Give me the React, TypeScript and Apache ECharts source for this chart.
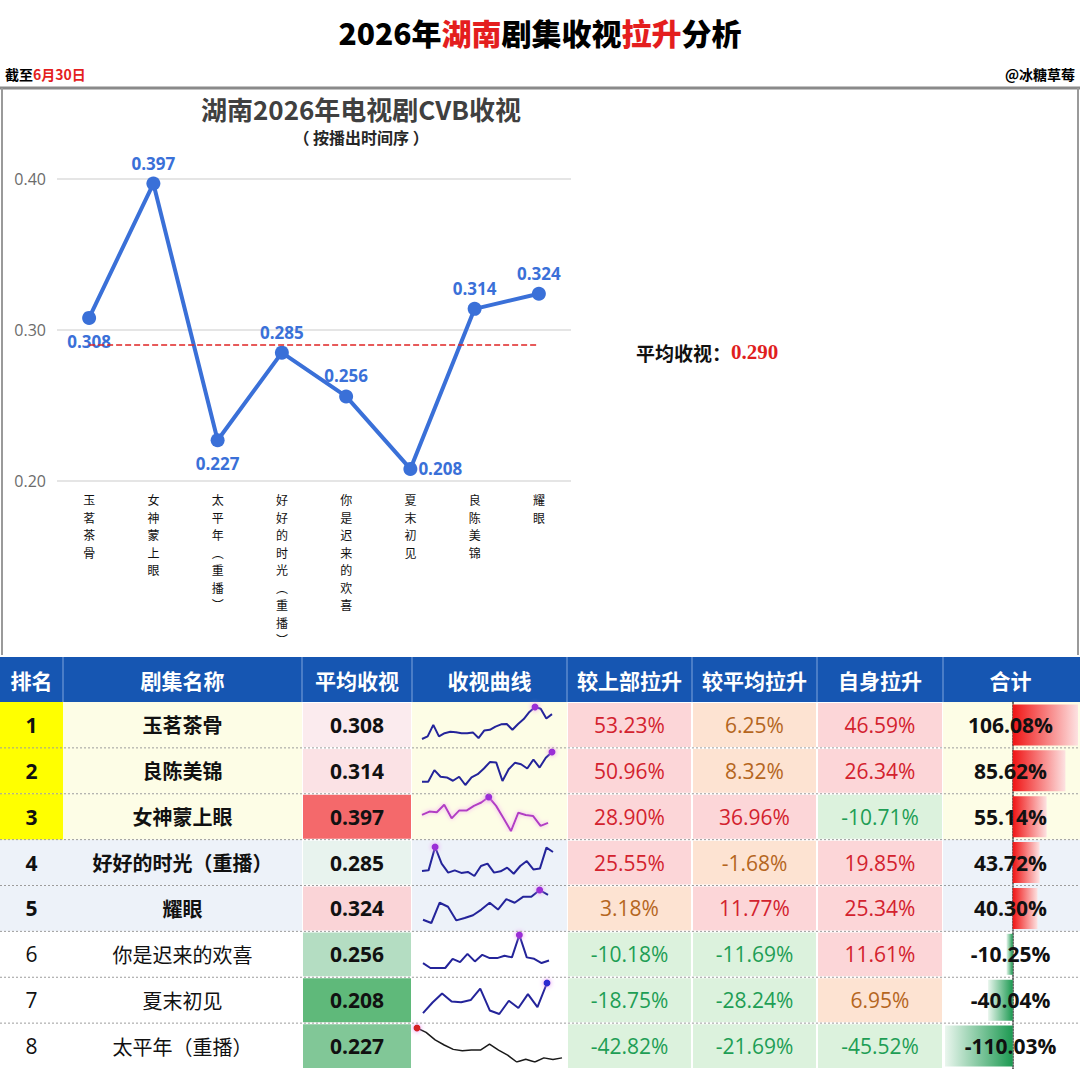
import React, { useEffect, useRef } from 'react';
import * as echarts from 'echarts';

// ---------- data ----------
const broadcastDramas = ['玉茗茶骨', '女神蒙上眼', '太平年（重播）', '好好的时光（重播）', '你是迟来的欢喜', '夏末初见', '良陈美锦', '耀眼'];
const broadcastRatings = [0.308, 0.397, 0.227, 0.285, 0.256, 0.208, 0.314, 0.324];
const averageRating = 0.29;
const yAxisMin = 0.2;
const yAxisMax = 0.4;
const yAxisStep = 0.1;

const tableHeaders = ['排名', '剧集名称', '平均收视', '收视曲线', '较上部拉升', '较平均拉升', '自身拉升', '合计'];
const rankNumbers = [1, 2, 3, 4, 5, 6, 7, 8];
const rankedDramas = ['玉茗茶骨', '良陈美锦', '女神蒙上眼', '好好的时光（重播）', '耀眼', '你是迟来的欢喜', '夏末初见', '太平年（重播）'];
const rankedRatings = [0.308, 0.314, 0.397, 0.285, 0.324, 0.256, 0.208, 0.227];
const liftVsPrevious = [53.23, 50.96, 28.9, 25.55, 3.18, -10.18, -18.75, -42.82];
const liftVsAverage = [6.25, 8.32, 36.96, -1.68, 11.77, -11.69, -28.24, -21.69];
const liftSelf = [46.59, 26.34, -10.71, 19.85, 25.34, 11.61, 6.95, -45.52];
const liftTotal = [106.08, 85.62, 55.14, 43.72, 40.3, -10.25, -40.04, -110.03];

// per-episode curves (estimated from the sparklines)
const sparkYuming = [0.25, 0.264, 0.325, 0.264, 0.281, 0.288, 0.286, 0.281, 0.281, 0.285, 0.255, 0.295, 0.299, 0.316, 0.328, 0.33, 0.299, 0.33, 0.356, 0.394, 0.42, 0.411, 0.359, 0.382];
const sparkLiangchen = [0.274, 0.274, 0.323, 0.295, 0.292, 0.278, 0.295, 0.26, 0.292, 0.306, 0.33, 0.358, 0.355, 0.277, 0.327, 0.354, 0.348, 0.33, 0.368, 0.334, 0.376, 0.4];
const sparkNvshen = [0.385, 0.403, 0.399, 0.439, 0.367, 0.408, 0.408, 0.433, 0.451, 0.48, 0.433, 0.367, 0.3, 0.397, 0.385, 0.379, 0.327, 0.343];
const sparkHaohao = [0.251, 0.255, 0.4, 0.297, 0.241, 0.255, 0.239, 0.245, 0.22, 0.282, 0.297, 0.241, 0.249, 0.272, 0.234, 0.282, 0.313, 0.261, 0.266, 0.396, 0.369];
const sparkYaoyan = [0.274, 0.26, 0.346, 0.329, 0.271, 0.281, 0.293, 0.317, 0.346, 0.317, 0.361, 0.346, 0.371, 0.371, 0.4, 0.379];
const sparkNishi = [0.247, 0.22, 0.22, 0.22, 0.27, 0.252, 0.297, 0.256, 0.292, 0.274, 0.274, 0.287, 0.278, 0.4, 0.278, 0.27, 0.247, 0.261];
const sparkXiamo = [0.164, 0.212, 0.253, 0.216, 0.213, 0.223, 0.275, 0.176, 0.16, 0.22, 0.187, 0.25, 0.191, 0.3];
const sparkTaiping = [0.32, 0.302, 0.271, 0.25, 0.232, 0.226, 0.229, 0.229, 0.254, 0.229, 0.208, 0.18, 0.191, 0.18, 0.197, 0.19, 0.197];
const sparkSeries = [sparkYuming, sparkLiangchen, sparkNvshen, sparkHaohao, sparkYaoyan, sparkNishi, sparkXiamo, sparkTaiping];

// ---------- layout / style ----------
const W = 1080;
const H = 1069;
const COLS = [0, 63, 302, 412, 567, 692, 817, 943, 1078];
const HEAD_TOP = 657;
const HEAD_BOT = 702;
const ROW_H = (H - HEAD_BOT) / 8;
const SPARK_BOX = [
  [422, 552, 707, 739],
  [422, 552, 752, 785],
  [422, 548, 797, 831],
  [422, 553, 847, 876],
  [423, 548, 890, 923],
  [423, 549, 935, 968],
  [423, 547, 983, 1014],
  [417, 562, 1028, 1062],
];
const LABEL_POS = ['bottom', 'top', 'bottom', 'top', 'top', 'right', 'top', 'top'];
const CJK = '"Noto Sans CJK SC", "Noto Sans", sans-serif';
const NUM = '"Open Sans", "Noto Sans", sans-serif';
const BLUE = '#3a70d8';

function mixColor(a: string, b: string, t: number) {
  const pa = [1, 3, 5].map((i) => parseInt(a.slice(i, i + 2), 16));
  const pb = [1, 3, 5].map((i) => parseInt(b.slice(i, i + 2), 16));
  const c = pa.map((v, i) => Math.round(v + (pb[i] - v) * t));
  return `rgb(${c[0]},${c[1]},${c[2]})`;
}

function ratingColor(v: number) {
  const sorted = [...rankedRatings].sort((a, b) => a - b);
  const n = sorted.length;
  const median = (sorted[n / 2 - 1] + sorted[n / 2]) / 2;
  const mn = sorted[0];
  const mx = sorted[n - 1];
  if (v >= median) return mixColor('#fcfcff', '#f4696b', (v - median) / (mx - median));
  return mixColor('#fcfcff', '#5fb97a', (median - v) / (median - mn));
}

function liftStyle(v: number) {
  if (v >= 10) return { bg: '#fcd6d8', fg: '#d3222e' };
  if (v <= -10) return { bg: '#dcf2dd', fg: '#1e9e55' };
  return { bg: '#fde3d2', fg: '#b5661e' };
}

function rowBg(i: number, isRank: boolean) {
  if (i < 3) return isRank ? '#ffff00' : '#fdfde6';
  if (i < 5) return '#edf2f9';
  return '#ffffff';
}

function verticalText(s: string) {
  return s
    .replace(/（/g, '︵')
    .replace(/）/g, '︶')
    .split('')
    .join('\n');
}

export default function App() {
  const ref = useRef<HTMLDivElement>(null);

  useEffect(() => {
    if (!ref.current) return;
    const chart = echarts.init(ref.current, undefined, { renderer: 'svg' });

    const graphics: any[] = [];
    const rect = (x0: number, y0: number, x1: number, y1: number, fill: string, z = 0) =>
      graphics.push({ type: 'rect', silent: true, z, shape: { x: x0, y: y0, width: x1 - x0, height: y1 - y0 }, style: { fill } });
    const line = (x1: number, y1: number, x2: number, y2: number, stroke: string, lineWidth: number, lineDash?: number[], z = 5) =>
      graphics.push({ type: 'line', silent: true, z, shape: { x1, y1, x2, y2 }, style: { stroke, lineWidth, lineDash } });
    const text = (x: number, y: number, s: string, o: any, z = 10) =>
      graphics.push({
        type: 'text',
        silent: true,
        z,
        x,
        y,
        style: {
          text: s,
          align: o.align || 'center',
          textAlign: o.align || 'center',
          verticalAlign: 'middle',
          textVerticalAlign: 'middle',
          fill: o.fill || '#000',
          fontSize: o.size || 20,
          fontWeight: o.weight || 'normal',
          fontFamily: o.family || CJK,
          rich: o.rich,
        },
      });

    // ----- header texts -----
    graphics.push({
      type: 'text', silent: true, z: 10, x: 540, y: 32,
      style: {
        text: '{a|2026年}{r|湖南}{a|剧集收视}{r|拉升}{a|分析}',
        align: 'center', textAlign: 'center', verticalAlign: 'middle', textVerticalAlign: 'middle',
        rich: {
          a: { fontSize: 30, fontWeight: 900, fontFamily: CJK, fill: '#000', color: '#000' },
          r: { fontSize: 30, fontWeight: 900, fontFamily: CJK, fill: '#e41e1e', color: '#e41e1e' },
        },
      },
    });
    graphics.push({
      type: 'text', silent: true, z: 10, x: 5, y: 74,
      style: {
        text: '{a|截至}{r|6月30日}',
        align: 'left', textAlign: 'left', verticalAlign: 'middle', textVerticalAlign: 'middle',
        rich: {
          a: { fontSize: 14, fontWeight: 'bold', fontFamily: CJK, fill: '#000', color: '#000' },
          r: { fontSize: 14, fontWeight: 'bold', fontFamily: CJK, fill: '#e41e1e', color: '#e41e1e' },
        },
      },
    });
    text(1075, 74, '@冰糖草莓', { align: 'right', size: 14, weight: 'bold' });

    // chart frame
    line(0, 88, W, 88, '#8a8a8a', 3);
    line(2, 88, 2, 655, '#9a9a9a', 2);
    line(1078, 88, 1078, 655, '#9a9a9a', 2);

    text(361, 108, '湖南2026年电视剧CVB收视', { size: 26, weight: 'bold', fill: '#404040' });
    text(361, 137, '（ 按播出时间序 ）', { size: 16, weight: 'bold', fill: '#262626' });
    graphics.push({
      type: 'text', silent: true, z: 10, x: 636, y: 352,
      style: {
        text: `{a|平均收视：}{r|${averageRating.toFixed(3)}}`,
        align: 'left', textAlign: 'left', verticalAlign: 'middle', textVerticalAlign: 'middle',
        rich: {
          a: { fontSize: 19, fontWeight: 'bold', fontFamily: CJK, fill: '#111', color: '#111' },
          r: { fontSize: 21, fontWeight: 'bold', fontFamily: '"Liberation Serif", serif', fill: '#e01e1e', color: '#e01e1e' },
        },
      },
    });

    // ----- table header -----
    rect(0, HEAD_TOP, 1080, HEAD_BOT, '#1656b2');
    tableHeaders.forEach((h, c) => {
      text((COLS[c] + COLS[c + 1]) / 2, (HEAD_TOP + HEAD_BOT) / 2, h, { size: 21, weight: 'bold', fill: '#ffffff' });
      if (c > 0) line(COLS[c], HEAD_TOP, COLS[c], HEAD_BOT, '#7ea4dc', 1);
    });

    // ----- table body -----
    rankNumbers.forEach((rank, i) => {
      const y0 = HEAD_BOT + i * ROW_H;
      const y1 = y0 + ROW_H;
      const yc = (y0 + y1) / 2;
      const bold = i < 5;
      rect(COLS[0], y0, COLS[1], y1, rowBg(i, true));
      rect(COLS[1], y0, COLS[2], y1, rowBg(i, false));
      rect(COLS[2] + 1, y0 + 1, COLS[3] - 1, y1 - 1, ratingColor(rankedRatings[i]));
      rect(COLS[3], y0, COLS[4], y1, rowBg(i, false));
      const lifts = [liftVsPrevious[i], liftVsAverage[i], liftSelf[i]];
      lifts.forEach((v, k) => {
        const st = liftStyle(v);
        rect(COLS[4 + k] + 1, y0 + 1, COLS[5 + k] - 1, y1 - 1, st.bg);
        text((COLS[4 + k] + COLS[5 + k]) / 2, yc, `${v.toFixed(2)}%`, { size: 21, fill: st.fg, family: NUM });
      });
      rect(COLS[7], y0, 1080, y1, rowBg(i, false));

      text((COLS[0] + COLS[1]) / 2, yc, String(rank), { size: 21, weight: bold ? 'bold' : 'normal', family: NUM, fill: '#111' });
      text((COLS[1] + COLS[2]) / 2, yc, rankedDramas[i], { size: 20, weight: bold ? 'bold' : 'normal', fill: '#111' });
      text((COLS[2] + COLS[3]) / 2, yc, rankedRatings[i].toFixed(3), { size: 21, weight: 'bold', family: NUM, fill: '#111' });
      text((COLS[7] + COLS[8]) / 2, yc, `${liftTotal[i].toFixed(2)}%`, { size: 21, weight: 'bold', family: NUM, fill: '#111' }, 20);

      if (i > 0) line(0, y0, 1080, y0, '#9c9c9c', 1, [2, 2], 6);
    });

    // ----- main chart + sparkline grids -----
    const grids: any[] = [{ left: 57, right: W - 571, top: 179, bottom: H - 481 }];
    const xAxes: any[] = [];
    const yAxes: any[] = [];
    const series: any[] = [];

    xAxes.push({
      gridIndex: 0,
      type: 'category',
      data: broadcastDramas,
      axisLine: { show: false },
      axisTick: { show: false },
      axisLabel: {
        interval: 0,
        margin: 10,
        fontSize: 12,
        lineHeight: 17.5,
        color: '#111',
        fontFamily: CJK,
        verticalAlign: 'top',
        formatter: (v: string) => verticalText(v),
      },
    });
    yAxes.push({
      gridIndex: 0,
      type: 'value',
      min: yAxisMin,
      max: yAxisMax,
      interval: yAxisStep,
      axisLine: { show: false },
      axisTick: { show: false },
      axisLabel: { fontSize: 16, color: '#6b6b6b', fontFamily: NUM, margin: 11, formatter: (v: number) => v.toFixed(2) },
      splitLine: { lineStyle: { color: '#dcdcdc', width: 1.5 } },
    });
    series.push({
      type: 'line',
      xAxisIndex: 0,
      yAxisIndex: 0,
      data: broadcastRatings.map((v, i) => ({
        value: v,
        label: { position: LABEL_POS[i], distance: LABEL_POS[i] === 'bottom' ? 8 : LABEL_POS[i] === 'right' ? 1 : 5 },
      })),
      symbol: 'circle',
      symbolSize: 14,
      lineStyle: { color: BLUE, width: 4 },
      itemStyle: { color: BLUE },
      label: {
        show: true,
        fontSize: 17,
        fontWeight: 'bold',
        color: BLUE,
        fontFamily: NUM,
        formatter: (p: any) => Number(p.value).toFixed(3),
      },
      markLine: {
        silent: true,
        symbol: 'none',
        label: { show: false },
        lineStyle: { color: '#e02424', type: 'dashed', width: 1.5 },
        data: [[{ coord: [0, averageRating] }, { coord: [broadcastDramas.length - 1, averageRating] }]],
      },
      z: 3,
    });

    sparkSeries.forEach((arr, i) => {
      const [x0, x1, y0, y1] = SPARK_BOX[i];
      const gi = i + 1;
      grids.push({ left: x0, width: x1 - x0, top: y0, height: y1 - y0 });
      xAxes.push({ gridIndex: gi, type: 'category', boundaryGap: false, show: false, data: arr.map((_, j) => j + 1) });
      yAxes.push({ gridIndex: gi, type: 'value', show: false, min: 'dataMin', max: 'dataMax' });
      let mi = 0;
      arr.forEach((v, j) => {
        if (v > arr[mi]) mi = j;
      });
      const isMagenta = i === 2;
      const isBlack = i === 7;
      const lineColor = isBlack ? '#1a1a1a' : isMagenta ? '#b23cc4' : '#24249a';
      const markColor = isBlack ? '#d42020' : i === 6 ? '#2b2bd0' : '#9b2fd6';
      series.push({
        type: 'line',
        xAxisIndex: gi,
        yAxisIndex: gi,
        silent: true,
        symbol: 'none',
        showSymbol: true,
        showAllSymbol: true,
        lineStyle: {
          color: lineColor,
          width: isBlack ? 1.5 : 2,
          shadowBlur: isMagenta ? 4 : 0,
          shadowColor: isMagenta ? '#f3a6f3' : 'transparent',
        },
        data: arr.map((v, j) =>
          j === mi
            ? { value: v, symbol: 'circle', symbolSize: 7, itemStyle: { color: markColor, shadowBlur: 5, shadowColor: '#e58ff0' } }
            : v
        ),
        z: 4,
      });
    });

    // ----- total data bars -----
    const bi = sparkSeries.length + 1;
    grids.push({ left: COLS[7] + 2, width: COLS[8] - COLS[7] - 2, top: HEAD_BOT, height: H - HEAD_BOT });
    xAxes.push({ gridIndex: bi, type: 'value', min: 'dataMin', max: 'dataMax', show: false });
    yAxes.push({
      gridIndex: bi,
      type: 'category',
      inverse: true,
      data: rankNumbers.map(String),
      axisLabel: { show: false },
      axisTick: { show: false },
      axisLine: { show: true, onZero: true, lineStyle: { color: '#3c3c3c', width: 1.5, type: 'dotted' } },
    });
    series.push({
      type: 'bar',
      xAxisIndex: bi,
      yAxisIndex: bi,
      silent: true,
      barWidth: 41,
      data: liftTotal.map((v) => ({
        value: v,
        itemStyle: {
          color:
            v >= 0
              ? new echarts.graphic.LinearGradient(0, 0, 1, 0, [
                  { offset: 0, color: '#f01414' },
                  { offset: 1, color: '#fde2e2' },
                ])
              : new echarts.graphic.LinearGradient(0, 0, 1, 0, [
                  { offset: 0, color: '#eaf6ee' },
                  { offset: 1, color: '#1d9a52' },
                ]),
        },
      })),
      z: 3,
    });

    chart.setOption({
      animation: false,
      backgroundColor: '#ffffff',
      grid: grids,
      xAxis: xAxes,
      yAxis: yAxes,
      series,
      graphic: { elements: graphics },
    });

    return () => chart.dispose();
  }, []);

  return <div ref={ref} style={{ position: 'absolute', left: 0, top: 0, width: W, height: H }} />;
}
